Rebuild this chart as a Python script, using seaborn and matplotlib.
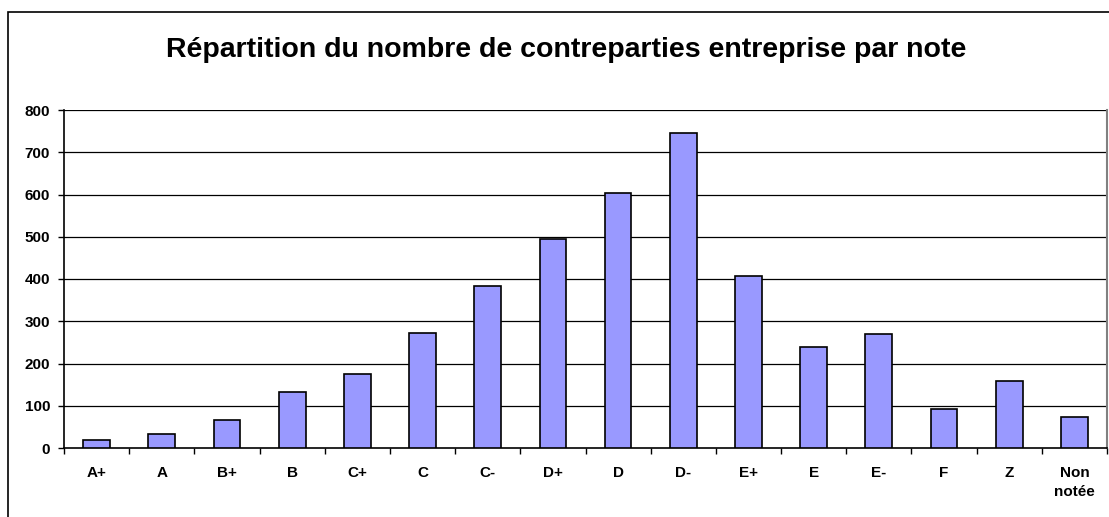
import matplotlib
matplotlib.use("Agg")
import matplotlib.pyplot as plt
import seaborn as sns
import pandas as pd
from matplotlib.patches import Rectangle

categories = ["A+", "A", "B+", "B", "C+", "C", "C-", "D+", "D", "D-",
              "E+", "E", "E-", "F", "Z", "Non\nnotée"]
values = [18, 32, 67, 133, 175, 273, 383, 495, 604, 745,
          407, 239, 271, 92, 158, 74]
y_ticks = [0, 100, 200, 300, 400, 500, 600, 700, 800]
title = "Répartition du nombre de contreparties entreprise par note"

sns.set_theme(style="white")
plt.rcParams['font.family'] = ['Liberation Sans', 'DejaVu Sans']
plt.rcParams['text.color'] = 'black'
plt.rcParams['xtick.color'] = 'black'
plt.rcParams['ytick.color'] = 'black'

df = pd.DataFrame({"note": categories, "n": values})

fig = plt.figure(figsize=(11.09, 5.17), dpi=100)
ax = fig.add_axes([64/1109, 1 - 448/517, (1107 - 64)/1109, (448 - 110)/517])

sns.barplot(data=df, x="note", y="n", ax=ax, color="#9999FF",
            saturation=1, width=0.41, edgecolor="black", linewidth=1.2,
            zorder=3)

ax.set_ylim(0, 800)
ax.set_xlim(-0.5, len(categories) - 0.5)
ax.set_yticks(y_ticks)
ax.set_yticklabels([str(t) for t in y_ticks], fontsize=11, fontweight="bold")
ax.set_xticks(range(len(categories)))
ax.set_xticklabels(categories, fontsize=11, fontweight="bold", linespacing=1.45)
ax.set_xlabel("")
ax.set_ylabel("")

for t in y_ticks[1:]:
    ax.axhline(t, color="black", lw=0.9, zorder=1)

# category boundary ticks on x axis
ax.set_xticks([i - 0.5 for i in range(len(categories) + 1)], minor=True)
ax.tick_params(axis="x", which="major", length=0, pad=13, labelcolor="black")
ax.tick_params(axis="x", which="minor", length=4, width=1, color="black", direction="out")
ax.tick_params(axis="y", which="major", length=4, width=1, color="black",
               direction="out", pad=6, labelcolor="black")
ax.xaxis.set_ticks_position("bottom")
ax.yaxis.set_ticks_position("left")

for s in ["left", "bottom"]:
    ax.spines[s].set_color("black")
    ax.spines[s].set_linewidth(1.2)
ax.spines["top"].set_visible(False)
ax.spines["right"].set_color("#808080")
ax.spines["right"].set_linewidth(1.5)

fig.text(566/1109, 1 - 50/517, title, ha="center", va="center",
         fontsize=20.5, fontweight="bold", color="black")

frame = Rectangle((8/1109, -0.1), 1.2, 1 - 12/517 + 0.1,
                  transform=fig.transFigure, fill=False,
                  edgecolor="black", lw=1.2)
fig.patches.append(frame)

fig.savefig("out.png", dpi=100)
